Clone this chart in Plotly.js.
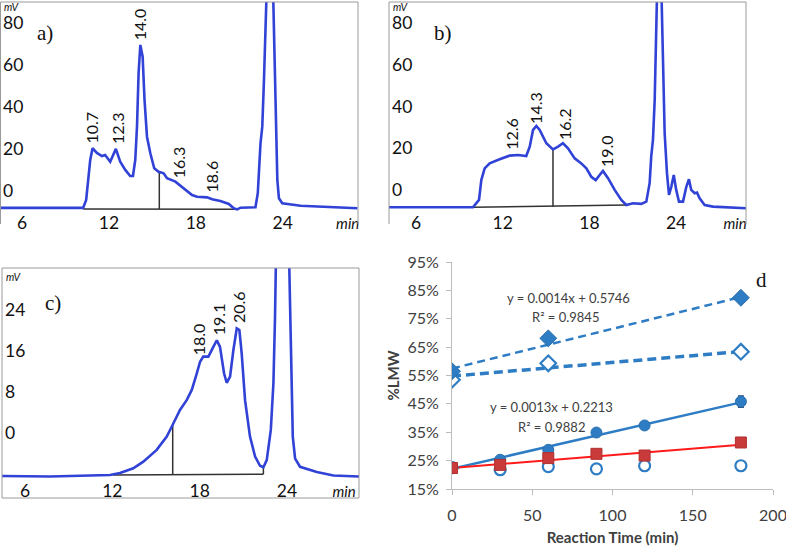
<!DOCTYPE html>
<html><head><meta charset="utf-8">
<script src="https://cdn.plot.ly/plotly-3.0.1.min.js"></script>
<style>html,body{margin:0;padding:0;background:#fff}#chart{width:786px;height:546px}</style>
</head><body><div id="chart"></div>
<script>
// ---------- Panel a chromatogram (retention time, min / signal, mV) ----------
const aTime = [4.48,10.22,10.43,10.59,10.71,10.87,11.17,11.52,11.74,12.09,12.48,12.78,13.13,13.47,13.66,13.82,13.94,14.05,14.17,14.33,14.46,14.63,14.86,15.13,15.43,15.78,16.01,16.59,17.05,17.74,18.09,18.78,19.13,19.70,20.28,20.62,20.86,21.09,22.12,22.28,22.47,22.59,22.70,22.82,22.93,23.13,23.35,23.44,23.53,23.63,23.74,23.97,25.24,27.52,29.16];
const aSignal = [-7.1,-7.1,-3.3,6.2,15.7,21.3,19.1,17.6,18.1,14.9,21.0,14.9,11.0,8.1,8.1,15.7,31.6,57.0,70.5,64.9,44.3,26.8,18.9,11.8,10.1,9.4,7.0,5.4,3.0,-1.0,-1.8,-2.1,-3.0,-3.8,-5.2,-7.3,-7.8,-7.0,-6.8,-0.1,23.8,31.6,52.4,76.2,91.9,150,92,60.1,28.6,6.2,-2.5,-4.9,-6.1,-6.8,-7.3];
const aPeakLabels = ['10.7','12.3','14.0','16.3','18.6'];
const aPeakLabelX = [10.81,12.64,14.17,16.80,19.15];
const aPeakLabelY = [31.0,31.0,80.5,14.8,8.1];
const aCutX = [15.48,15.48], aCutY = [9.7,-7.6];
const aBaseX = [10.22,20.86], aBaseY = [-7.6,-7.76];

// ---------- Panel b chromatogram ----------
const bTime = [4.13,9.94,10.36,10.52,10.75,11.10,11.79,12.48,13.06,13.63,13.87,14.10,14.33,14.56,15.02,15.48,15.83,16.17,16.52,16.98,17.44,17.79,18.13,18.44,18.71,18.94,19.29,19.75,20.21,20.55,21.02,21.59,21.94,22.17,22.28,22.40,22.52,22.63,22.70,22.86,23.00,23.09,23.21,23.37,23.51,23.67,23.84,24.01,24.20,24.48,24.71,24.89,25.05,25.29,25.45,25.63,25.98,26.55,27.47,28.84];
const bSignal = [-7.3,-7.3,-3.8,5.7,11.3,13.7,15.7,17.4,17.7,17.2,21.7,29.7,31.6,29.7,23.3,20.4,21.7,23.3,20.9,16.1,13.7,11.3,7.3,5.7,8.1,10.1,6.6,1.0,-3.8,-6.2,-5.4,-5.7,-4.6,4.2,16.9,24.9,44.0,76.1,91.9,150,91.9,60.0,28.1,9.0,-1.4,2.5,8.1,1.0,-4.6,-4.6,2.5,6.1,1.0,-0.6,-0.3,-3.0,-6.2,-7.0,-7.3,-7.8];
const bPeakLabels = ['12.6','14.3','16.2','19.0'];
const bPeakLabelX = [12.64,14.30,16.24,19.15];
const bPeakLabelY = [27.8,40.2,32.5,19.6];
const bCutX = [15.48,15.48], bCutY = [20.4,-7.0];
const bBaseX = [9.94,20.55], bBaseY = [-7.32,-6.22];

// ---------- Panel c chromatogram ----------
const cTime = [4.42,7.72,11.84,12.53,13.44,14.13,15.05,15.74,16.15,16.65,17.11,17.46,17.80,18.03,18.25,18.60,18.94,19.18,19.40,19.68,19.86,20.09,20.32,20.55,20.73,20.89,21.12,21.46,21.81,22.15,22.38,22.61,22.89,23.07,23.18,23.30,23.73,24.16,24.26,24.40,24.56,24.90,26.05,27.19,28.95];
const cSignal = [-8.0,-8.1,-7.8,-7.4,-6.5,-5.2,-2.9,-0.3,2.0,4.9,6.8,8.8,12.0,14.3,15.3,15.3,17.2,18.5,17.2,12.0,10.2,11.4,16.6,20.8,20.5,15.9,6.8,-0.3,-4.2,-6.0,-6.3,-4.9,1.0,10.1,23.1,32.8,120,32.8,16.6,-0.3,-4.6,-6.2,-7.2,-7.9,-8.1];
const cPeakLabels = ['18.0','19.1','20.6'];
const cPeakLabelX = [17.89,19.26,20.71];
const cPeakLabelY = [18.7,22.6,25.0];
const cCutX = [16.15,16.15], cCutY = [2.3,-7.8];
const cEndX = [22.38,22.38], cEndY = [-6.3,-7.67];
const cBaseX = [12.07,22.38], cBaseY = [-7.8,-7.67];

// ---------- Panel d: %LMW vs reaction time ----------
const dTicks = [0,50,100,150,200];
const dYTicks = [0.15,0.25,0.35,0.45,0.55,0.65,0.75,0.85,0.95];
const diamondTime = [0,60,180];
const filledDiamond = [0.565,0.681,0.824];
const filledDiamondErr = [0.005,0.01,0.006];
const openDiamond = [0.535,0.593,0.634];
const openDiamondErr = [0.008,0.012,0.006];
const reactTime = [0,30,60,90,120,180];
const filledCircle = [0.225,0.253,0.288,0.349,0.374,0.458];
const filledCircleErr = [0,0.006,0.008,0.006,0.006,0.02];
const redSquare = [0.224,0.235,0.259,0.274,0.268,0.314];
const redSquareErr = [0.004,0.006,0.008,0.006,0.015,0.006];
const openCircle = [0.225,0.218,0.229,0.221,0.232,0.232];
const trendEnds = [0,180];
const trend1 = {slope:0.0014, icpt:0.5746};   // filled diamonds (equation shown)
const trend2 = {slope:0.00048, icpt:0.548};   // open diamonds
const trend3 = {slope:0.0013, icpt:0.2213};   // filled circles (equation shown)
const trend4 = {slope:0.000456, icpt:0.224};  // red squares

const W = 786, H = 546;
const PX = x => x / W, PY = y => 1 - y / H;
const curveColor = '#3142d6';
const blue = '#2e7dc4';
const frameCol = '#9a9a9a';
const cutLine = {color:'#333', width:1.5};
const tickFont = {family:'Lato, sans-serif', size:17.5, color:'#111'};
const minText = '<span style="font-size:15px"><i>min</i></span>';

const tr = (xs, slope, icpt) => xs.map(x => slope * x + icpt);

const data = [
  {x:aBaseX, y:aBaseY, xaxis:'x', yaxis:'y', mode:'lines', line:cutLine},
  {x:aCutX, y:aCutY, xaxis:'x', yaxis:'y', mode:'lines', line:cutLine},
  {x:aTime, y:aSignal, xaxis:'x', yaxis:'y', mode:'lines', line:{color:curveColor, width:2.6}},
  {x:bBaseX, y:bBaseY, xaxis:'x2', yaxis:'y2', mode:'lines', line:cutLine},
  {x:bCutX, y:bCutY, xaxis:'x2', yaxis:'y2', mode:'lines', line:cutLine},
  {x:bTime, y:bSignal, xaxis:'x2', yaxis:'y2', mode:'lines', line:{color:curveColor, width:2.6}},
  {x:cBaseX, y:cBaseY, xaxis:'x3', yaxis:'y3', mode:'lines', line:cutLine},
  {x:cCutX, y:cCutY, xaxis:'x3', yaxis:'y3', mode:'lines', line:cutLine},
  {x:cEndX, y:cEndY, xaxis:'x3', yaxis:'y3', mode:'lines', line:cutLine},
  {x:cTime, y:cSignal, xaxis:'x3', yaxis:'y3', mode:'lines', line:{color:curveColor, width:2.6}},
  // panel d trend lines
  {x:trendEnds, y:tr(trendEnds, trend1.slope, trend1.icpt), xaxis:'x4', yaxis:'y4', mode:'lines', line:{color:blue, width:2.5, dash:'8px,5px'}},
  {x:trendEnds, y:tr(trendEnds, trend2.slope, trend2.icpt), xaxis:'x4', yaxis:'y4', mode:'lines', line:{color:blue, width:3.5, dash:'9px,5px'}},
  {x:trendEnds, y:tr(trendEnds, trend3.slope, trend3.icpt), xaxis:'x4', yaxis:'y4', mode:'lines', line:{color:blue, width:2.5}},
  {x:trendEnds, y:tr(trendEnds, trend4.slope, trend4.icpt), xaxis:'x4', yaxis:'y4', mode:'lines', line:{color:'#ff1a1a', width:2}},
  // panel d markers
  {x:reactTime, y:openCircle, xaxis:'x4', yaxis:'y4', mode:'markers', marker:{symbol:'circle', size:11, color:'#fff', line:{color:blue, width:2.2}}},
  {x:reactTime, y:filledCircle, xaxis:'x4', yaxis:'y4', mode:'markers', marker:{symbol:'circle', size:11, color:blue, line:{color:'#2a6fad', width:1}},
   error_y:{type:'data', array:filledCircleErr, color:'#2d4f78', thickness:1.5, width:3}},
  {x:reactTime, y:redSquare, xaxis:'x4', yaxis:'y4', mode:'markers', marker:{symbol:'square', size:11, color:'#c93a3a', line:{color:'#b03030', width:1}},
   error_y:{type:'data', array:redSquareErr, color:'#6b2a2a', thickness:1.5, width:3}},
  {x:diamondTime, y:openDiamond, xaxis:'x4', yaxis:'y4', mode:'markers', marker:{symbol:'diamond', size:12, color:'#fff', line:{color:blue, width:2.2}},
   error_y:{type:'data', array:openDiamondErr, color:'#2d4f78', thickness:1.5, width:3}},
  {x:diamondTime, y:filledDiamond, xaxis:'x4', yaxis:'y4', mode:'markers', marker:{symbol:'diamond', size:13, color:blue, line:{color:'#2a6fad', width:1}},
   error_y:{type:'data', array:filledDiamondErr, color:'#2d4f78', thickness:1.5, width:3}}
];

const chromX = (dom, range, minPos, anchor, standoff) => ({
  domain:dom, range:range, anchor:anchor, tickmode:'array',
  tickvals:[6,12,18,24,minPos], ticktext:['6','12','18','24',minText],
  ticks:'', ticklabelstandoff:standoff, ticklabeloverflow:'allow', showgrid:false, zeroline:false, showline:false,
  tickfont:tickFont, fixedrange:true
});
const chromY = (dom, range, vals, anchor) => ({
  domain:dom, range:range, anchor:anchor, tickmode:'array', tickvals:vals,
  ticklabelposition:'inside', ticklabeloverflow:'allow', ticklabelshift:-2, ticks:'', showgrid:false, zeroline:false, showline:false,
  tickfont:tickFont, fixedrange:true
});

const layout = {
  width:W, height:H, margin:{l:0,r:0,t:0,b:0}, showlegend:false,
  paper_bgcolor:'#fff', plot_bgcolor:'rgba(0,0,0,0)',
  font:{family:'Lato, sans-serif', color:'#111'},
  xaxis: chromX([PX(0),PX(358)], [4.48,29.2], 28.49, 'y', -2),
  yaxis: chromY([PY(212),PY(2)], [-9.05,90.95], [0,20,40,60,80], 'x'),
  xaxis2: chromX([PX(389),PX(746)], [4.13,28.84], 28.08, 'y2', -2),
  yaxis2: chromY([PY(212),PY(2)], [-9.57,90.9], [0,20,40,60,80], 'x2'),
  xaxis3: chromX([PX(2),PX(359)], [4.42,28.95], 27.92, 'y3', -2),
  yaxis3: chromY([PY(480),PY(268)], [-8.78,32.6], [0,8,16,24], 'x3'),
  xaxis4: {domain:[PX(452),PX(773)], range:[0,200], anchor:'y4', tickmode:'array', tickvals:dTicks,
    showline:true, linecolor:'#bcbcbc', linewidth:1, ticks:'outside', ticklen:5, tickcolor:'#bcbcbc',
    ticklabelstandoff:7, ticklabeloverflow:'allow', showgrid:false, zeroline:false, tickfont:{family:'Lato, sans-serif', size:16, color:'#404040'},
    title:{text:'<b>Reaction Time (min)</b>', font:{family:'Lato, sans-serif', size:15, color:'#404040'}, standoff:10}},
  yaxis4: {domain:[PY(489),PY(262)], range:[0.15,0.95], anchor:'x4', tickmode:'array', tickvals:dYTicks, tickformat:'.0%',
    showline:true, linecolor:'#bcbcbc', linewidth:1, ticks:'outside', ticklen:5, tickcolor:'#bcbcbc',
    ticklabelstandoff:4, ticklabeloverflow:'allow', showgrid:false, zeroline:false, tickfont:{family:'Lato, sans-serif', size:16, color:'#404040'},
    title:{text:'<b>%LMW</b>', font:{family:'Lato, sans-serif', size:15, color:'#404040'}, standoff:4}},
  shapes: [],
  annotations: []
};

// frames: a and b (top, left, right; bottom cropped), c full box
const frameLine = (x0, y0, x1, y1) => ({type:'line', xref:'paper', yref:'paper',
  x0:PX(x0), x1:PX(x1), y0:PY(y0), y1:PY(y1), line:{color:frameCol, width:1}});
layout.shapes.push(
  frameLine(0.5,2,358,2), frameLine(358,2,358,224), frameLine(0.5,2,0.5,224),
  frameLine(389,2,746,2), frameLine(746,2,746,224), frameLine(389,2,389,224),
  frameLine(2,268,359,268), frameLine(359,268,359,498), frameLine(2,268,2,498), frameLine(2,498,359,498)
);

const ann = layout.annotations;
const peakFont = {family:'Lato, sans-serif', size:16, color:'#111'};
const addPeaks = (labels, xs, ys, xr, yr) => labels.forEach((t, i) => ann.push({
  text:t, x:xs[i], y:ys[i], xref:xr, yref:yr, showarrow:false, textangle:-90,
  xanchor:'center', yanchor:'middle', font:peakFont}));
addPeaks(aPeakLabels, aPeakLabelX, aPeakLabelY, 'x', 'y');
addPeaks(bPeakLabels, bPeakLabelX, bPeakLabelY, 'x2', 'y2');
addPeaks(cPeakLabels, cPeakLabelX, cPeakLabelY, 'x3', 'y3');

const serif = {family:'Liberation Serif, Times New Roman, serif', size:21, color:'#111'};
[['a)',45,33],['b)',443,33],['c)',53,303],['d',761,280]].forEach(([t,x,y]) => ann.push({
  text:t, x:PX(x), y:PY(y), xref:'paper', yref:'paper', showarrow:false, xanchor:'center', yanchor:'middle', font:serif}));
[[12,0.5],[401,0.5],[14,269.5]].forEach(([x,y]) => ann.push({
  text:'<i>mV</i>', x:PX(x), y:PY(y), xref:'paper', yref:'paper', showarrow:false, xanchor:'center', yanchor:'top',
  borderpad:0, font:{family:'Lato, sans-serif', size:10.5, color:'#111'}}));

const eqFont = {family:'Lato, sans-serif', size:13, color:'#404040'};
[['y = 0.0014x + 0.5746',72.3,0.823],['R² = 0.9845',71.0,0.756],['y = 0.0013x + 0.2213',62.3,0.439],['R² = 0.9882',62.3,0.369]]
  .forEach(([t,x,y]) => ann.push({text:t, x:x, y:y, xref:'x4', yref:'y4', showarrow:false, xanchor:'center', yanchor:'middle', font:eqFont}));

Plotly.newPlot('chart', data, layout, {displayModeBar:false, staticPlot:true});
</script>
</body></html>
